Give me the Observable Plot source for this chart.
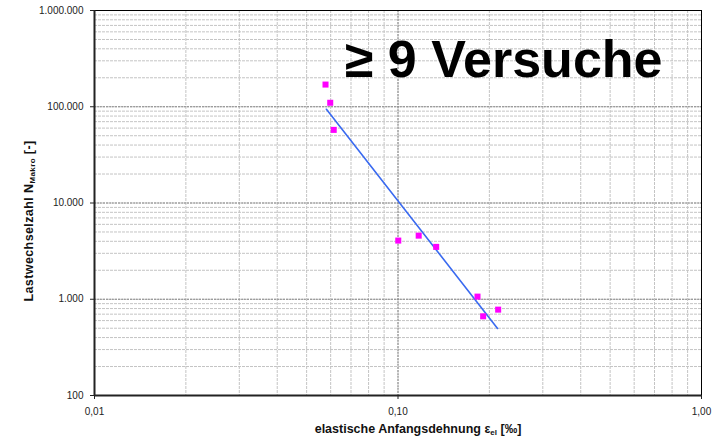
<!DOCTYPE html>
<html>
<head>
<meta charset="utf-8">
<script src="https://cdn.jsdelivr.net/npm/d3@7"></script>
<script src="https://cdn.jsdelivr.net/npm/@observablehq/plot@0.6"></script>
<style>
  html, body { margin: 0; padding: 0; background: #fff; }
  svg { display: block; }
</style>
</head>
<body>
<div id="chart"></div>
<script>
// ---- data ----
const xTicks = [0.01, 0.1, 1];
const xTickLabels = ["0,01", "0,10", "1,00"];
const yTicks = [100, 1000, 10000, 100000, 1000000];
const yTickLabels = ["100", "1.000", "10.000", "100.000", "1.000.000"];

// elastische Anfangsdehnung [‰] and Lastwechselzahl N_Makro
const strain = [0.0577, 0.0598, 0.0614, 0.1002, 0.117, 0.1336, 0.1828, 0.1908, 0.2138];
const cycles = [170000, 110000, 57500, 4070, 4580, 3500, 1065, 665, 780];

// regression line end points
const fitStrain = [0.0581, 0.2128];
const fitCycles = [94200, 498];

const titleText = "≥ 9 Versuche";

const points = strain.map((s, i) => ({x: s, y: cycles[i]}));
const fit = fitStrain.map((s, i) => ({x: s, y: fitCycles[i]}));

const W = 717, H = 440;

const chart = Plot.plot({
  width: W,
  height: H,
  marginLeft: 94,
  marginRight: 16,
  marginTop: 10,
  marginBottom: 45,
  style: {fontFamily: "'Liberation Sans', Arial, sans-serif", fontSize: "10px", color: "#222", background: "#fff"},
  x: {type: "log", domain: [xTicks[0], xTicks[xTicks.length - 1]]},
  y: {type: "log", domain: [yTicks[0], yTicks[yTicks.length - 1]]},
  marks: [
    Plot.gridX({stroke: "#c4c4c4", strokeOpacity: 1, strokeDasharray: "3,1"}),
    Plot.gridY({stroke: "#c4c4c4", strokeOpacity: 1, strokeDasharray: "3,1"}),
    Plot.gridX(xTicks, {stroke: "#8a8a8a", strokeOpacity: 1, strokeDasharray: "2,1"}),
    Plot.gridY(yTicks, {stroke: "#8a8a8a", strokeOpacity: 1, strokeDasharray: "2,1"}),
    Plot.frame({stroke: "#000", strokeWidth: 1}),
    Plot.ruleX([xTicks[0]], {stroke: "#222", strokeWidth: 2}),
    Plot.ruleY([yTicks[0]], {stroke: "#222", strokeWidth: 2}),
    Plot.axisX(xTicks, {tickFormat: d => xTickLabels[xTicks.indexOf(d)], tickSize: 4, tickPadding: 8, label: null}),
    Plot.axisY(yTicks, {tickFormat: d => yTickLabels[yTicks.indexOf(d)], tickSize: 4, tickPadding: 7, label: null}),
    Plot.line(fit, {x: "x", y: "y", stroke: "#3a6af0", strokeWidth: 1.6}),
    Plot.dot(points, {x: "x", y: "y", symbol: "square", r: 3.4, fill: "#ff00ff", stroke: "none"}),
    Plot.text([titleText], {frameAnchor: "top-right", textAnchor: "end", lineAnchor: "top", dx: -39, dy: 30,
      fontSize: 52, fontWeight: "bold", fill: "#000"})
  ]
});

document.getElementById("chart").appendChild(chart);

const svg = d3.select(chart);
// x axis title with subscript
const xt = svg.append("text")
  .attr("x", 418).attr("y", 433)
  .attr("text-anchor", "middle")
  .attr("font-weight", "bold")
  .attr("font-size", 12.5)
  .attr("fill", "#111");
xt.append("tspan").text("elastische Anfangsdehnung ε");
xt.append("tspan").attr("font-size", 8).attr("dy", 2).text("el");
xt.append("tspan").attr("dy", -2).text(" [‰]");

// y axis title with subscript
const yt = svg.append("text")
  .attr("transform", "translate(33,221) rotate(-90)")
  .attr("text-anchor", "middle")
  .attr("font-weight", "bold")
  .attr("font-size", 12.5)
  .attr("letter-spacing", 0.4)
  .attr("fill", "#111");
yt.append("tspan").text("Lastwechselzahl N");
yt.append("tspan").attr("font-size", 8).attr("dy", 2).text("Makro");
yt.append("tspan").attr("dy", -2).text(" [-]");
</script>
</body>
</html>
